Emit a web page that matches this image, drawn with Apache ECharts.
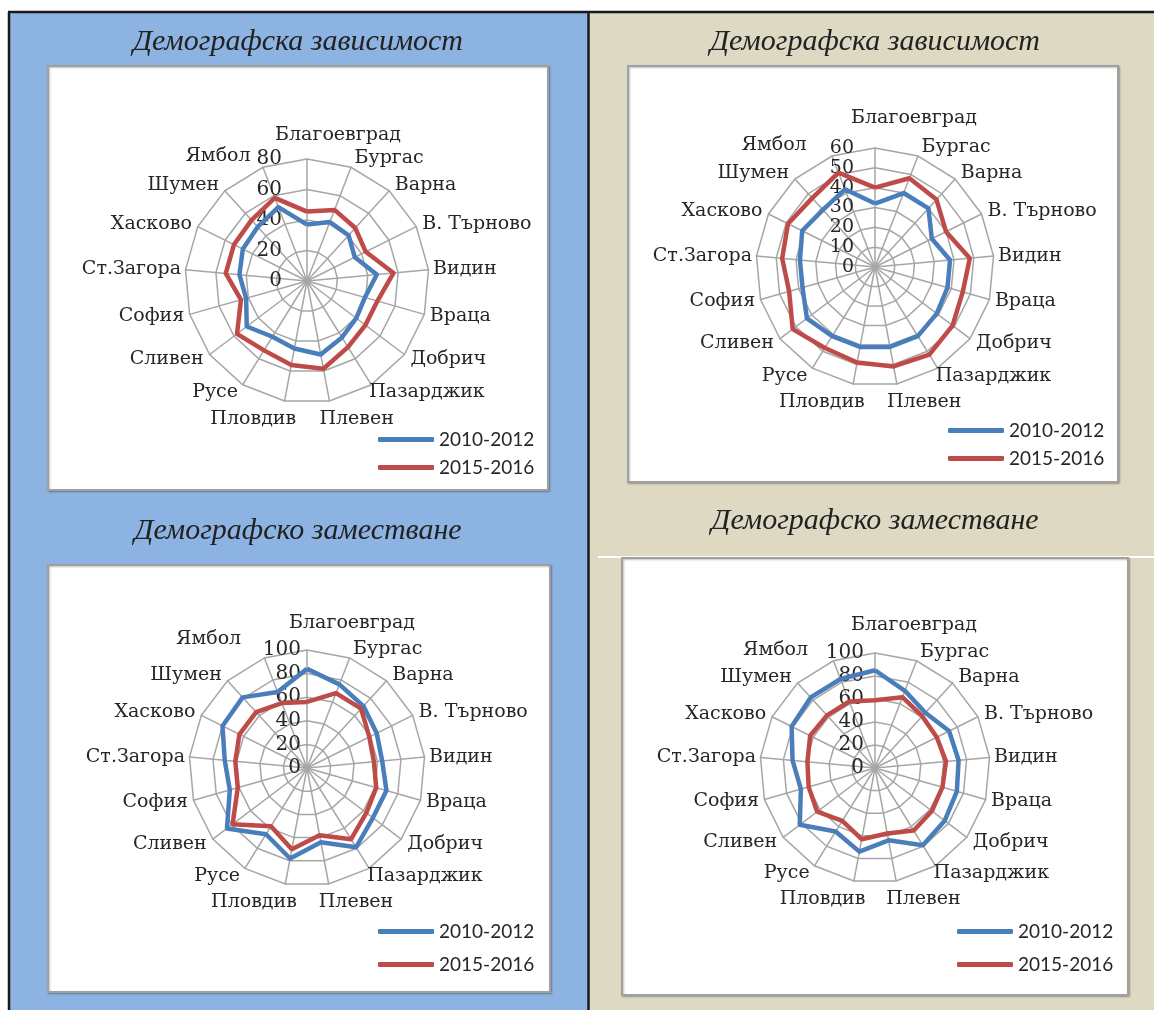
<!DOCTYPE html>
<html>
<head>
<meta charset="utf-8">
<script src="https://cdn.jsdelivr.net/npm/echarts@6/dist/echarts.min.js"></script>
<style>
  html, body { margin: 0; padding: 0; background: #fff; }
  #main { width: 1154px; height: 1010px; }
</style>
</head>
<body>
<div id="main"></div>
<script>
const regions = ['Благоевград', 'Бургас', 'Варна', 'В. Търново', 'Видин', 'Враца', 'Добрич', 'Пазарджик', 'Плевен',
    'Пловдив', 'Русе', 'Сливен', 'София', 'Ст.Загора', 'Хасково', 'Шумен', 'Ямбол'];
const periods = ['2010-2012', '2015-2016'];

// Демографска зависимост (ляво / дясно)
const depLeft2010 = [37, 41.5, 40.5, 35, 46, 39.5, 40.5, 43.5, 49, 45, 43, 49.5, 41.5, 44.5, 47, 48, 52];
const depLeft2015 = [45.5, 50, 47, 43, 57, 48, 48, 51, 58.5, 56, 53.5, 57.5, 45, 53.5, 53.5, 54, 58.5];
const depRight2010 = [32, 40, 40, 32, 38, 38, 39, 41, 41, 41, 41, 43, 38, 38, 41, 39, 42];
const depRight2015 = [40, 48, 46, 40, 48, 46, 49, 52, 51, 49, 48, 52, 45, 47, 49, 47, 51];

// Демографско заместване (ляво / дясно)
const repLeft2010 = [84, 76, 71, 66, 64, 70, 70, 79, 64, 78, 66, 85, 68, 70, 80, 81, 69];
const repLeft2015 = [56, 68, 68, 59, 57, 61, 63, 71, 58, 70, 58, 79, 61, 61, 64, 64, 59];
const repRight2010 = [85, 72, 65, 72, 73, 74, 76, 79, 64, 74, 65, 82, 67, 72, 81, 83, 83];
const repRight2015 = [59, 66, 61, 60, 62, 61, 62, 64, 58, 63, 54, 63, 60, 59, 63, 62, 62];

const depLeftTicks = [0, 20, 40, 60, 80];
const depRightTicks = [0, 10, 20, 30, 40, 50, 60];
const repTicks = [0, 20, 40, 60, 80, 100];

const titleDep = 'Демографска зависимост';
const titleRep = 'Демографско заместване';

const BLUE = '#4a7ebb';
const RED = '#be4b48';
const GRID = '#a6a6a6';
const TEXT = '#262626';
const SERIF = 'DejaVu Serif';

// ECharts lays radar axes counter-clockwise; Excel goes clockwise
const cw = arr => [arr[0]].concat(arr.slice(1).reverse());

// label placement roughly like Excel: box edge just outside the web
function indicators(ticks, cfg) {
    const max = ticks[ticks.length - 1];
    const n = regions.length;
    return cw(regions).map((name, i) => {
        const k = i === 0 ? 0 : n - i;
        const c = Math.cos(k * 2 * Math.PI / n);
        const ind = { name: name, min: 0, max: max, nameGap: 4 + 6 * Math.abs(c) };
        if (k === 0) {
            ind.nameGap = cfg.topGap;
            ind.nameTextStyle = { padding: [0, 0, 0, cfg.topShift * 2] };
            ind.axisLabel = {
                show: true, color: TEXT, fontFamily: SERIF, fontSize: cfg.tickSize,
                margin: cfg.tickMargin, showMinLabel: true, showMaxLabel: true
            };
        } else if (k === 7) {
            ind.nameTextStyle = { align: 'center', padding: [8, 0, 0, 102] };
        } else if (k === 8) {
            ind.nameGap = 18;
            ind.nameTextStyle = { align: 'center', padding: [0, 0, 0, 48] };
        } else if (k === 9) {
            ind.nameGap = 18;
            ind.nameTextStyle = { align: 'center', padding: [0, 56, 0, 0] };
        } else if (k === n - 1) {
            // Excel nudges this one away from the tick labels
            ind.nameGap = cfg.lastGap;
            ind.nameTextStyle = { padding: [0, cfg.lastShift, 0, 0] };
        }
        return ind;
    });
}

function radar(cfg, ticks) {
    return {
        center: cfg.center,
        radius: cfg.radius,
        shape: 'polygon',
        splitNumber: ticks.length - 1,
        indicator: indicators(ticks, cfg),
        axisName: { color: TEXT, fontFamily: SERIF, fontSize: 19 },
        splitLine: { lineStyle: { color: GRID, width: 1.5 } },
        splitArea: { show: false },
        axisLine: { lineStyle: { color: GRID, width: 1.5 } },
        axisTick: { show: false },
        axisLabel: { show: false }
    };
}

function series(idx, a, b) {
    return {
        type: 'radar',
        radarIndex: idx,
        symbol: 'none',
        silent: true,
        data: [
            { name: periods[0], value: cw(a), lineStyle: { color: BLUE, width: 4.5 }, itemStyle: { color: BLUE } },
            { name: periods[1], value: cw(b), lineStyle: { color: RED, width: 4.5 }, itemStyle: { color: RED } }
        ]
    };
}

function legend(left, top, gap) {
    return {
        data: periods,
        orient: 'vertical',
        left: left,
        top: top,
        padding: 0,
        itemWidth: 56,
        itemHeight: 5,
        itemGap: gap,
        icon: 'roundRect',
        selectedMode: false,
        textStyle: { fontFamily: 'Lato', fontSize: 19, color: TEXT }
    };
}

function box(x, y, w, h) {
    return {
        type: 'rect', z: -5, silent: true,
        shape: { x: x, y: y, width: w, height: h },
        style: { fill: '#fff', stroke: '#a0a0a0', lineWidth: 2,
                 shadowBlur: 2, shadowOffsetX: 1, shadowOffsetY: 1, shadowColor: 'rgba(0,0,0,0.25)' }
    };
}

function title(text, x, y) {
    return {
        type: 'text', z: -4, silent: true,
        style: { text: text, x: x, y: y, align: 'center', verticalAlign: 'middle',
                 font: 'italic 30px "Liberation Serif"', fill: '#222' }
    };
}

const layoutTL = { center: [307, 281], radius: 122, tickSize: 20, tickMargin: 25, topGap: 14, topShift: 31, lastGap: 12, lastShift: 8 };
const layoutTR = { center: [875, 267], radius: 119, tickSize: 19, tickMargin: 21, topGap: 20, topShift: 39, lastGap: 12, lastShift: 21 };
const layoutBL = { center: [307, 768], radius: 118, tickSize: 20, tickMargin: 6, topGap: 17, topShift: 45, lastGap: 20, lastShift: 16 };
const layoutBR = { center: [875, 768], radius: 115, tickSize: 20, tickMargin: 11, topGap: 18, topShift: 39, lastGap: 12, lastShift: 21 };

const chart = echarts.init(document.getElementById('main'));

chart.setOption({
    animation: false,
    graphic: [
        { type: 'rect', z: -10, silent: true, shape: { x: 9, y: 12, width: 580, height: 1000 }, style: { fill: '#8db3e2' } },
        { type: 'rect', z: -10, silent: true, shape: { x: 589, y: 12, width: 570, height: 1000 }, style: { fill: '#ddd9c3' } },
        { type: 'line', z: -9, silent: true, shape: { x1: 9, y1: 12, x2: 9, y2: 1010 }, style: { stroke: '#1a1a1a', lineWidth: 2.5 } },
        { type: 'line', z: -9, silent: true, shape: { x1: 8, y1: 12, x2: 1154, y2: 12 }, style: { stroke: '#1a1a1a', lineWidth: 2.5 } },
        { type: 'line', z: -9, silent: true, shape: { x1: 588.5, y1: 12, x2: 588.5, y2: 1010 }, style: { stroke: '#1a1a1a', lineWidth: 2.5 } },
        { type: 'line', z: -9, silent: true, shape: { x1: 598, y1: 557, x2: 1154, y2: 557 }, style: { stroke: '#ffffff', lineWidth: 2 } },
        box(48, 66, 500, 424),
        box(628, 66, 490, 416),
        box(48, 565, 502, 427),
        box(622, 558, 506, 437),
        title(titleDep, 298, 42),
        title(titleDep, 875, 42),
        title(titleRep, 298, 531),
        title(titleRep, 875, 521)
    ],
    radar: [
        radar(layoutTL, depLeftTicks),
        radar(layoutTR, depRightTicks),
        radar(layoutBL, repTicks),
        radar(layoutBR, repTicks)
    ],
    legend: [
        legend(378, 430, 9),
        legend(948, 421, 9),
        legend(378, 922, 14),
        legend(957, 922, 14)
    ],
    series: [
        series(0, depLeft2010, depLeft2015),
        series(1, depRight2010, depRight2015),
        series(2, repLeft2010, repLeft2015),
        series(3, repRight2010, repRight2015)
    ]
});
</script>
</body>
</html>
